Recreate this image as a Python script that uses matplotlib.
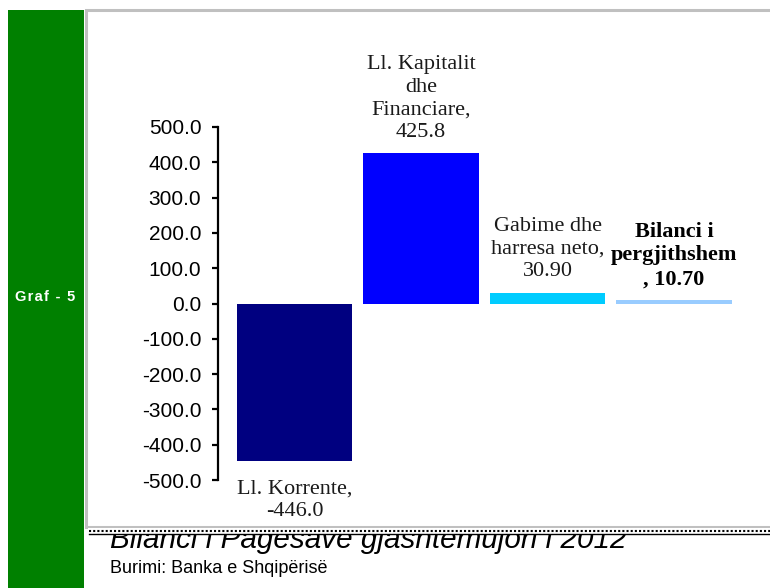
import matplotlib.pyplot as plt
from matplotlib.patches import Rectangle
from matplotlib.lines import Line2D

# te dhenat
kategorite = ['Ll. Korrente,', 'Ll. Kapitalit\ndhe\nFinanciare,', 'Gabime dhe\nharresa neto,', 'Bilanci i\npergjithshem\n,']
vlerat = [-446.0, 425.8, 30.90, 10.70]
vlerat_tekst = ['-446.0', '425.8', '30.90', '10.70']
ngjyrat = ['#000080', '#0000FF', '#00CCFF', '#99CCFF']
yticks = [-500, -400, -300, -200, -100, 0, 100, 200, 300, 400, 500]

W, H = 770, 588


def fx(x):
    return x / W


def fy(y):
    return 1 - y / H


fig = plt.figure(figsize=(W / 100, H / 100), dpi=100)
fig.patch.set_facecolor('white')

# shiriti jeshil majtas
fig.add_artist(Rectangle((fx(8), 0), fx(76), fy(10), transform=fig.transFigure,
                         facecolor='#008000', edgecolor='none', zorder=1))
fig.text(fx(45), fy(297), '\u200a'.join('Graf - 5'), color='white', fontsize=10.5,
         fontweight='bold', family=['Liberation Sans', 'DejaVu Sans'],
         ha='center', va='center', zorder=2)

# titulli (pjeserisht i mbuluar nga paneli)
fig.text(fx(110), fy(548), 'Bilanci i Pagesave gjashtemujori i 2012', fontsize=21.3,
         style='italic', family='Liberation Sans', ha='left', va='baseline', zorder=1)
fig.text(fx(110), fy(573), 'Burimi: Banka e Shqipërisë', fontsize=13,
         family='Liberation Sans', ha='left', va='baseline', zorder=1)

# paneli i bardhe
fig.add_artist(Rectangle((fx(86), fy(527)), fx(700), fy(10) - fy(527), transform=fig.transFigure,
                         facecolor='white', edgecolor='#C0C0C0', linewidth=2.2, zorder=2))
fig.add_artist(Rectangle((fx(88), fy(534)), fx(700), fy(528) - fy(534), transform=fig.transFigure,
                         facecolor='white', edgecolor='none', zorder=2))
fig.add_artist(Line2D([fx(89), fx(772)], [fy(531), fy(531)], transform=fig.transFigure,
                      color='black', linewidth=1.5, dashes=(1, 1), zorder=3))
fig.add_artist(Line2D([fx(89), fx(772)], [fy(533.5), fy(533.5)], transform=fig.transFigure,
                      color='black', linewidth=1.0, zorder=3))

ax = fig.add_axes([fx(218), fy(480), fx(750 - 218), fy(127) - fy(480)])
ax.set_zorder(4)
ax.patch.set_visible(False)

x = list(range(len(vlerat)))
ax.bar(x, vlerat, width=0.915, color=ngjyrat)

ax.set_xlim(-0.604, 3.6)
ax.set_ylim(-500, 500)
ax.set_yticks(yticks)
ax.set_yticklabels(['%.1f' % v for v in yticks], fontsize=15, family='Liberation Sans')
ax.tick_params(axis='y', direction='out', length=4, width=1.6, pad=8)
ax.set_xticks([])
for s in ['top', 'right', 'bottom']:
    ax.spines[s].set_visible(False)
ax.spines['left'].set_linewidth(1.6)

# etiketat e te dhenave
zhvendosjet = [-19, 11.5, 11.5, 10.5]
for i, v in enumerate(vlerat):
    if i == 3:
        tekst = kategorite[i] + ' ' + vlerat_tekst[i]
        pesha = 'bold'
    else:
        tekst = kategorite[i] + '\n' + vlerat_tekst[i]
        pesha = 'normal'
    ax.annotate(tekst, xy=(i, v), xytext=(0, zhvendosjet[i]), textcoords='offset pixels',
                ha='center', va='top' if v < 0 else 'bottom', fontsize=16,
                family='Liberation Serif', fontweight=pesha, linespacing=1.25,
                multialignment='center', color='#1a1a1a' if pesha == 'normal' else 'black')

fig.savefig('out.png', dpi=100)
